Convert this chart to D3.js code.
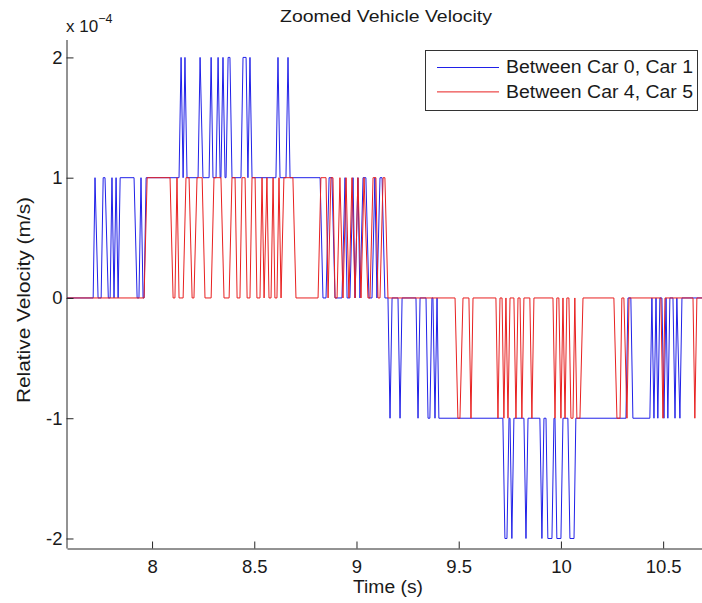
<!DOCTYPE html>
<html>
<head>
<meta charset="utf-8">
<script src="https://cdn.jsdelivr.net/npm/d3@7"></script>
<style>
  body { margin: 0; background: #fff; }
  svg { display: block; }
  text { font-family: "Liberation Sans", Arial, sans-serif; fill: #1a1a1a; }
</style>
</head>
<body>
<svg id="chart"></svg>
<script>
// values are in units of 1e-4 m/s, times in seconds (vertices)
var blueTime = [7.584, 7.712, 7.721, 7.736, 7.751, 7.761, 7.770, 7.786, 7.795, 7.804, 7.814, 7.824, 7.834,
  7.844, 7.912, 7.927, 7.936, 7.946, 7.956, 7.961, 7.971,
  8.132, 8.142, 8.152, 8.161, 8.171, 8.225, 8.235, 8.249, 8.279, 8.289, 8.298, 8.313, 8.323, 8.333,
  8.337, 8.347, 8.357, 8.362, 8.372, 8.381, 8.391, 8.435, 8.445, 8.460, 8.469, 8.479, 8.489,
  8.606, 8.616, 8.626, 8.655, 8.665, 8.675,
  8.822, 8.836, 8.851, 8.866, 8.880, 8.895, 8.929, 8.944, 8.954, 8.968, 8.983, 8.993, 9.007, 9.017,
  9.032, 9.046, 9.061, 9.076, 9.090, 9.100, 9.115, 9.125, 9.139,
  9.154, 9.164, 9.174, 9.203, 9.213, 9.223, 9.291, 9.301, 9.311, 9.340, 9.350, 9.359, 9.369,
  9.374, 9.384, 9.394, 9.403,
  9.716, 9.726, 9.736, 9.746, 9.751, 9.760, 9.770, 9.819, 9.829, 9.839, 9.897, 9.907, 9.917,
  9.927, 9.936, 9.956, 9.966, 9.971, 9.980, 10.000, 10.010, 10.034, 10.044, 10.064, 10.073,
  10.318, 10.328, 10.342, 10.352, 10.435, 10.445, 10.455, 10.465, 10.474, 10.484, 10.494, 10.504,
  10.514, 10.523, 10.533, 10.548, 10.558, 10.567, 10.582, 10.592, 10.69];
var blueValue = [0, 0, 1, 0, 0, 1, 1, 0, 0, 1, 0, 1, 0,
  1, 1, 0, 0, 1, 0, 0, 1,
  1, 2, 1, 2, 1, 1, 2, 1, 1, 2, 1, 1, 2, 1,
  1, 2, 1, 1, 2, 2, 1, 1, 2, 2, 1, 2, 1,
  1, 2, 1, 1, 2, 1,
  1, 0, 0, 1, 1, 0, 0, 1, 0, 0, 1, 0, 1, 0,
  1, 1, 0, 0, 1, 0, 1, 1, 0,
  0, -1, 0, 0, -1, 0, 0, -1, 0, 0, -1, -1, 0,
  0, -1, 0, -1,
  -1, -2, -2, -1, -1, -2, -1, -1, -2, -1, -1, -2, -1,
  -1, -2, -2, -1, -1, -2, -2, -1, -1, -2, -2, -1,
  -1, 0, 0, -1, -1, 0, -1, 0, -1, 0, 0, -1,
  0, -1, 0, 0, -1, 0, -1, 0, 0];

var redTime = [7.584, 7.961, 7.976, 8.088, 8.103, 8.112, 8.122, 8.132, 8.152, 8.166, 8.181, 8.196,
  8.205, 8.220, 8.245, 8.259, 8.289, 8.303, 8.337, 8.352, 8.377, 8.391, 8.406, 8.416, 8.430,
  8.440, 8.455, 8.465, 8.479, 8.489, 8.504, 8.513, 8.528, 8.538, 8.548, 8.562, 8.572, 8.582,
  8.592, 8.601, 8.611, 8.621, 8.631, 8.645, 8.689, 8.704,
  8.812, 8.826, 8.851, 8.861, 8.875, 8.885, 8.895, 8.905, 8.919, 8.934, 8.949, 8.963, 8.978,
  8.993, 9.007, 9.022, 9.037, 9.056, 9.066, 9.081, 9.095, 9.105, 9.115, 9.130, 9.139, 9.154,
  9.482, 9.496, 9.506, 9.521, 9.550, 9.560, 9.570, 9.682, 9.692, 9.702, 9.712, 9.721, 9.731,
  9.741, 9.751, 9.770, 9.780, 9.790, 9.800, 9.809, 9.819, 9.848, 9.858, 9.868,
  9.961, 9.971, 9.980, 9.990, 10.000, 10.010, 10.020, 10.029, 10.039, 10.049, 10.059, 10.068,
  10.078, 10.093, 10.108, 10.259, 10.274, 10.289, 10.298, 10.308, 10.323, 10.333,
  10.489, 10.499, 10.509, 10.646, 10.655, 10.665, 10.69];
var redValue = [0, 0, 1, 1, 0, 0, 1, 0, 0, 1, 1, 0,
  0, 1, 1, 0, 0, 1, 1, 0, 0, 1, 1, 0, 0,
  1, 1, 0, 0, 1, 1, 0, 0, 1, 0, 1, 0, 0,
  1, 0, 0, 1, 0, 1, 1, 0,
  0, 1, 1, 0, 1, 1, 0, 0, 1, 0, 1, 0, 1,
  0, 1, 0, 1, 0, 0, 1, 1, 0, 0, 1, 1, 0,
  0, -1, -1, 0, 0, -1, 0, 0, -1, 0, 0, -1, 0,
  -1, 0, 0, -1, 0, 0, -1, 0, 0, -1, 0,
  0, -1, 0, 0, -1, 0, -1, 0, 0, -1, -1, 0,
  -1, -1, 0, 0, -1, -1, 0, 0, -1, 0,
  0, -1, 0, 0, -1, 0, 0];

var seriesNames = ["Between Car 0, Car 1", "Between Car 4, Car 5"];
var seriesColors = ["#2020e8", "#e82020"];
var xTicks = [8, 8.5, 9, 9.5, 10, 10.5];
var yTicks = [-2, -1, 0, 1, 2];

var W = 702, H = 603;
var plotLeft = 67, plotRight = 702, plotTop = 39.5, plotBottom = 548;

var svg = d3.select("#chart").attr("width", W).attr("height", H);

var x = d3.scaleLinear().domain([7.584, 10.69]).range([plotLeft, plotRight]);
var y = d3.scaleLinear().domain([-2.079, 2.149]).range([plotBottom, plotTop]);

svg.append("defs").append("clipPath").attr("id", "plotclip")
  .append("rect").attr("x", plotLeft).attr("y", plotTop - 2)
  .attr("width", plotRight - plotLeft).attr("height", plotBottom - plotTop + 4);

var series = [
  blueTime.map(function(t, i) { return [t, blueValue[i]]; }),
  redTime.map(function(t, i) { return [t, redValue[i]]; })
];

var line = d3.line().x(function(d) { return x(d[0]); }).y(function(d) { return y(d[1]); });

svg.append("g").attr("clip-path", "url(#plotclip)")
  .selectAll("path").data(series).enter().append("path")
  .attr("d", line)
  .attr("fill", "none")
  .attr("stroke", function(d, i) { return seriesColors[i]; })
  .attr("stroke-width", 1);

// axes, MATLAB style ticks pointing inwards
var xAxis = svg.append("g").attr("transform", "translate(0," + (plotBottom + 0.5) + ")")
  .call(d3.axisBottom(x).tickValues(xTicks).tickSizeInner(-7).tickSizeOuter(0).tickPadding(11)
    .tickFormat(function(d) { return String(d); }));
var yAxis = svg.append("g").attr("transform", "translate(" + (plotLeft - 0.5) + ",0)")
  .call(d3.axisLeft(y).tickValues(yTicks).tickSizeInner(-7).tickSizeOuter(0).tickPadding(4)
    .tickFormat(function(d) { return String(d); }));

[xAxis, yAxis].forEach(function(a) {
  a.select(".domain").attr("stroke", "#262626");
  a.selectAll(".tick line").attr("stroke", "#262626");
  a.selectAll(".tick text").attr("font-size", "18.5px").attr("fill", "#1a1a1a")
    .attr("font-family", "Liberation Sans, Arial, sans-serif");
});

// exponent label
var expo = svg.append("text").attr("x", 66).attr("y", 31.5).attr("font-size", "17px");
expo.append("tspan").text("x 10");
expo.append("tspan").attr("font-size", "12.5px").attr("dy", -9).text("\u22124");

svg.append("text").attr("x", 386).attr("y", 22).attr("text-anchor", "middle")
  .attr("font-size", "17px").attr("textLength", 212).attr("lengthAdjust", "spacingAndGlyphs")
  .text("Zoomed Vehicle Velocity");

svg.append("text").attr("x", 388).attr("y", 592.5).attr("text-anchor", "middle")
  .attr("font-size", "18px").attr("textLength", 70).attr("lengthAdjust", "spacingAndGlyphs")
  .text("Time (s)");

svg.append("text").attr("transform", "translate(30,300) rotate(-90)").attr("text-anchor", "middle")
  .attr("font-size", "18px").attr("textLength", 206).attr("lengthAdjust", "spacingAndGlyphs")
  .text("Relative Velocity (m/s)");

// legend
var lg = svg.append("g");
lg.append("rect").attr("x", 425.5).attr("y", 50.5).attr("width", 272).attr("height", 60)
  .attr("fill", "#fff").attr("stroke", "#333").attr("stroke-width", 1);
seriesNames.forEach(function(name, i) {
  var yy = 67.5 + i * 24.4;
  lg.append("line").attr("x1", 437).attr("x2", 499).attr("y1", yy).attr("y2", yy)
    .attr("stroke", seriesColors[i]).attr("stroke-width", 1);
  lg.append("text").attr("x", 506).attr("y", 73.3 + i * 24.4).attr("font-size", "17.5px")
    .attr("textLength", 187).attr("lengthAdjust", "spacingAndGlyphs").text(name);
});
</script>
</body>
</html>
